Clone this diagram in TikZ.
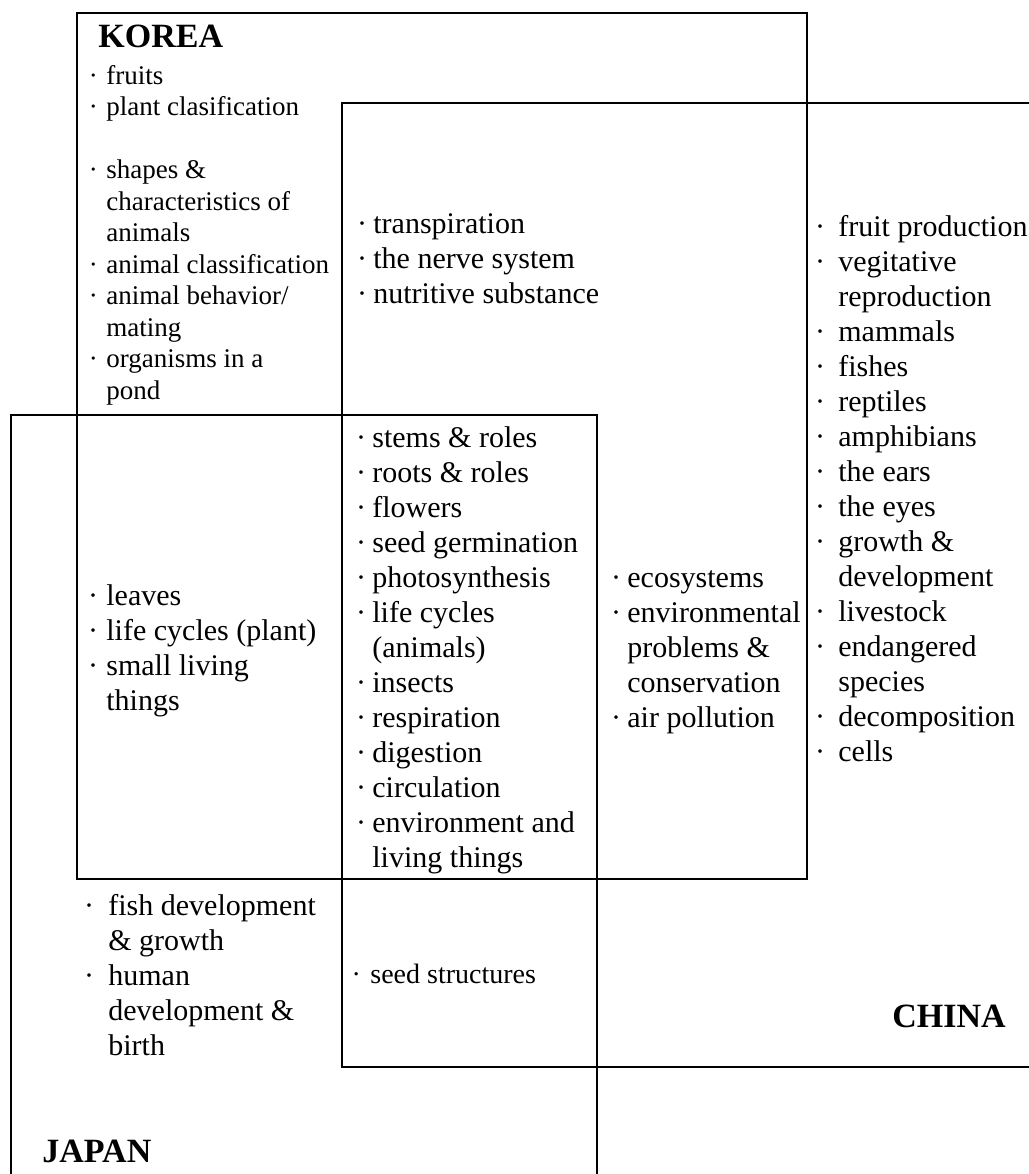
\documentclass[tikz,border=0pt]{standalone}
\usepackage{fontspec}
\setmainfont{Liberation Serif}
\newcommand{\bul}[1][3.1pt]{\llap{·\hspace{#1}}}
\begin{document}
\begin{tikzpicture}[x=0.5pt,y=-0.5pt,
	lista/.style={anchor=north west, inner sep=0pt, align=left, font=\fontsize{15}{17.5}\selectfont},
	piccola/.style={lista, font=\fontsize{13.5}{15.75}\selectfont},
	paese/.style={anchor=base west, inner sep=0pt, font=\bfseries\fontsize{17}{20}\selectfont},
	riquadro/.style={line width=1.2pt}]
	\useasboundingbox (0,0) rectangle (1029,1174);
	\clip (0,0) rectangle (1029,1174);

	% Rettangoli
	\draw[riquadro] (77,13) rectangle (807,879);
	\draw[riquadro] (342,103) rectangle (1060,1067);
	\draw[riquadro] (11,415) rectangle (597,1200);

	% Etichette
	\node[paese] (korea) at (98,47) {KOREA};
	\node[paese] (china) at (892,1027) {CHINA};
	\node[paese] (japan) at (42,1162) {JAPAN};

	% Definisci i nodi
	\node[piccola] (K) at (106,62) {\strut\bul[4.3pt]fruits\\
		\bul[4.3pt]plant clasification\\[15.75pt]
		\bul[4.3pt]shapes \&\\
		characteristics of\\
		animals\\
		\bul[4.3pt]animal classification\\
		\bul[4.3pt]animal behavior/\\
		mating\\
		\bul[4.3pt]organisms in a\\
		pond};
	\node[lista] (KC) at (373,208.5) {\strut\bul transpiration\\
		\bul the nerve system\\
		\bul nutritive substance};
	\node[lista] (C) at (838,211.5) {\strut\bul[6.6pt]fruit production\\
		\bul[6.6pt]vegitative\\
		reproduction\\
		\bul[6.6pt]mammals\\
		\bul[6.6pt]fishes\\
		\bul[6.6pt]reptiles\\
		\bul[6.6pt]amphibians\\
		\bul[6.6pt]the ears\\
		\bul[6.6pt]the eyes\\
		\bul[6.6pt]growth \&\\
		development\\
		\bul[6.6pt]livestock\\
		\bul[6.6pt]endangered\\
		species\\
		\bul[6.6pt]decomposition\\
		\bul[6.6pt]cells};
	\node[lista] (KJ) at (106,580.5) {\strut\bul[4.1pt]leaves\\
		\bul[4.1pt]life cycles (plant)\\
		\bul[4.1pt]small living\\
		things};
	\node[lista] (KCJ) at (372,422.5) {\strut\bul stems \& roles\\
		\bul roots \& roles\\
		\bul flowers\\
		\bul seed germination\\
		\bul photosynthesis\\
		\bul life cycles\\
		(animals)\\
		\bul insects\\
		\bul respiration\\
		\bul digestion\\
		\bul circulation\\
		\bul environment and\\
		living things};
	\node[lista] (KC2) at (627,562.5) {\strut\bul ecosystems\\
		\bul environmental\\
		problems \&\\
		conservation\\
		\bul air pollution};
	\node[lista] (J) at (108,890.5) {\strut\bul[7.1pt]fish development\\
		\& growth\\
		\bul[7.1pt]human\\
		development \&\\
		birth};
	\node[anchor=base west, inner sep=0pt, font=\fontsize{14}{16}\selectfont] (CJ) at (370,983) {\bul[4.7pt]seed structures};
\end{tikzpicture}
\end{document}
